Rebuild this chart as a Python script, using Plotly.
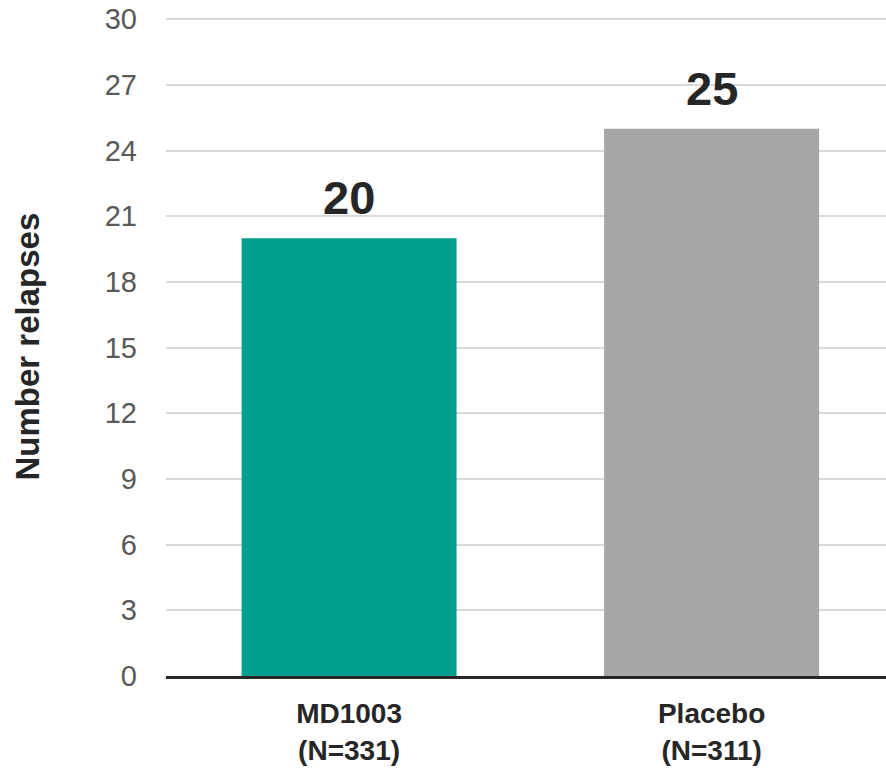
import plotly.graph_objects as go

categories = ["MD1003<br>(N=331)", "Placebo<br>(N=311)"]
relapses = [20, 25]
bar_colors = ["#009E8F", "#A6A6A6"]
y_ticks = [0, 3, 6, 9, 12, 15, 18, 21, 24, 27, 30]

FONT = "Liberation Sans, Arial, sans-serif"

fig = go.Figure()
fig.add_trace(go.Bar(
    x=categories, y=relapses,
    marker=dict(color=bar_colors, line=dict(width=0)),
    width=0.593,
    hoverinfo="skip",
))

for c, v in zip(categories, relapses):
    fig.add_annotation(
        x=c, y=v, xref="x", yref="y", text=f"<b>{v}</b>",
        showarrow=False, yanchor="bottom", yshift=12,
        font=dict(family=FONT, size=47, color="#262626"),
    )

fig.add_annotation(
    x=-0.193, y=0.5, xref="paper", yref="paper",
    text="<b>Number relapses</b>", textangle=-90, showarrow=False,
    xanchor="center", yanchor="middle",
    font=dict(family=FONT, size=33, color="#262626"),
)

fig.update_layout(
    width=886, height=770,
    margin=dict(l=166, r=0, t=17, b=94),
    paper_bgcolor="white", plot_bgcolor="white",
    showlegend=False,
    font=dict(family=FONT),
)
fig.update_xaxes(
    automargin=False, range=[-0.505, 1.481],
    showgrid=False, showline=True, linecolor="#262626", linewidth=2.5,
    ticks="", tickfont=dict(family=FONT, size=28, color="#262626", weight="bold"),
    ticklabelstandoff=11,
)
fig.update_yaxes(
    automargin=False,
    range=[0, 30.1], tickvals=y_ticks, showgrid=True, gridcolor="#D9D9D9",
    gridwidth=2, zeroline=False, showline=False, ticks="",
    tickfont=dict(family=FONT, size=29, color="#595959"),
    ticklabelstandoff=28,
)

fig.write_html("out.html", config={"displayModeBar": False},
               post_script="document.body.style.margin='0';")
